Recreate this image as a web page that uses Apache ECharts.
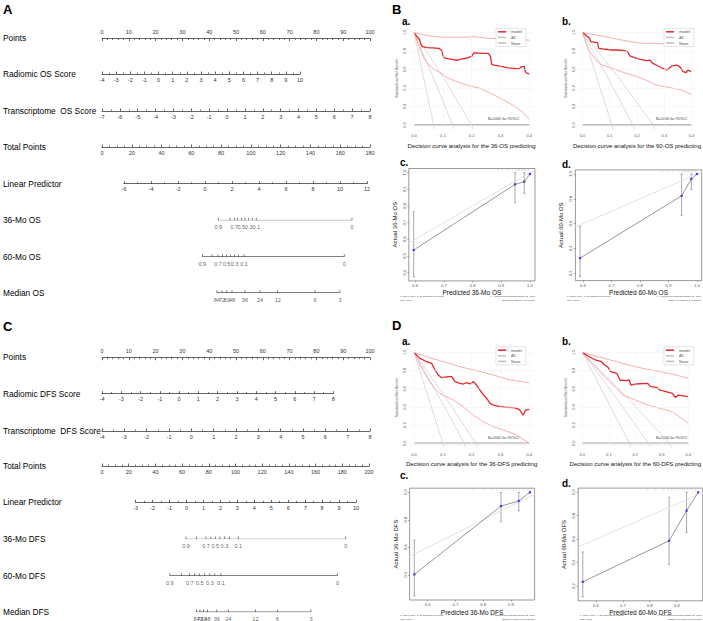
<!DOCTYPE html>
<html><head><meta charset="utf-8">
<script src="https://cdn.jsdelivr.net/npm/echarts@6/dist/echarts.min.js"></script>
<style>html,body{margin:0;padding:0;background:#fff}#c{width:703px;height:621px}</style>
</head><body><div id="c"></div><script>
// ================= DATA =================
const osRowLabels = ['Points','Radiomic OS Score','Transcriptome  OS Score','Total Points','Linear Predictor','36-Mo OS','60-Mo OS','Median OS'];
const dfsRowLabels = ['Points','Radiomic DFS Score','Transcriptome  DFS Score','Total Points','Linear Predictor','36-Mo DFS','60-Mo DFS','Median DFS'];
// linear scales: [min, max, labelStep, minorSplit]
const pointsScale = [0,100,10,5];
const osRadiomicScale = [-4,10,1,2];
const osTranscriptScale = [-7,8,1,2];
const osTotalScale = [0,180,20,4];
const osLpScale = [-6,12,2,2];
const dfsRadiomicScale = [-4,8,1,2];
const dfsTranscriptScale = [-4,8,1,2];
const dfsTotalScale = [0,200,20,4];
const dfsLpScale = [-3,10,1,2];
// non-linear scales: positions in total points, tick labels
const os36Points = [78.1,86.0,88.9,91.1,93.6,96.0,98.5,100.9,103.6,167.9];
const os36Labels = ['0.9','','0.7','','0.5','','0.3','','0.1','0'];
const os60Points = [67.4,73.9,77.9,80.9,83.6,86.3,89.0,91.7,95.4,162.7];
const os60Labels = ['0.9','','0.7','','0.5','','0.3','','0.1','0'];
const osMedianPoints = [77.2,80.6,83.9,87.3,96.0,106.1,118.0,143.1,159.8];
const osMedianLabels = ['84','72','60','48','36','24','12','6','3'];
const dfs36Points = [62.9,70.9,77.9,81.5,84.9,88.3,91.7,95.5,102.1,182.6];
const dfs36Labels = ['0.9','','0.7','','0.5','','0.3','','0.1','0'];
const dfs60Points = [50.8,59.6,65.7,69.4,73.2,77.0,80.8,84.5,89.1,176.4];
const dfs60Labels = ['0.9','','0.7','','0.5','','0.3','','0.1','0'];
const dfsMedianPoints = [70.9,73.4,76.0,79.0,86.0,94.6,114.9,131.3,156.5];
const dfsMedianLabels = ['84','72','60','48','36','24','12','6','3'];

// decision curves  [threshold, standardized net benefit]
const dcaThresholdTicks = [0,0.1,0.2,0.3,0.4];
const dcaBenefitTicks = [0,0.2,0.4,0.6,0.8,1.0];
const dcaOs36Model = [[0,1.0],[0.011,0.95],[0.018,0.93],[0.024,0.87],[0.029,0.845],[0.046,0.835],[0.064,0.833],[0.087,0.826],[0.097,0.80],[0.10,0.754],[0.105,0.725],[0.117,0.717],[0.138,0.705],[0.15,0.697],[0.163,0.71],[0.18,0.72],[0.2,0.74],[0.208,0.779],[0.239,0.772],[0.258,0.772],[0.265,0.74],[0.27,0.652],[0.28,0.645],[0.327,0.616],[0.365,0.606],[0.372,0.63],[0.382,0.632],[0.386,0.58],[0.39,0.562],[0.4,0.552]];
const dcaOs36Upper = [[0,1.0],[0.047,0.964],[0.093,0.948],[0.163,0.946],[0.21,0.953],[0.257,0.935],[0.3,0.93],[0.35,0.922],[0.4,0.915]];
const dcaOs36Lower = [[0,1],[0.017,0.845],[0.034,0.72],[0.05,0.655],[0.07,0.6],[0.093,0.56],[0.115,0.51],[0.15,0.465],[0.195,0.42],[0.23,0.395],[0.257,0.355],[0.28,0.32],[0.31,0.27],[0.345,0.21],[0.379,0.135],[0.4,0.06]];
const dcaOs36All = [[[0,1],[0.068,0],[0.072,-0.06]],[[0,1],[0.07,0.49],[0.134,0],[0.139,-0.06]],[[0,1],[0.1,0.52],[0.2,0],[0.207,-0.06]]];
const dcaOs60Model = [[0,1.0],[0.026,0.935],[0.031,0.899],[0.055,0.888],[0.06,0.827],[0.084,0.817],[0.107,0.809],[0.13,0.809],[0.153,0.802],[0.165,0.791],[0.174,0.745],[0.188,0.73],[0.212,0.709],[0.235,0.694],[0.247,0.701],[0.258,0.665],[0.27,0.647],[0.293,0.612],[0.31,0.594],[0.328,0.637],[0.345,0.647],[0.357,0.629],[0.369,0.576],[0.381,0.565],[0.386,0.594],[0.398,0.576]];
const dcaOs60Upper = [[0,1],[0.037,0.978],[0.084,0.953],[0.13,0.924],[0.177,0.899],[0.223,0.881],[0.27,0.881],[0.3,0.875],[0.35,0.865],[0.4,0.855]];
const dcaOs60Lower = [[0,1],[0.014,0.881],[0.031,0.773],[0.049,0.701],[0.072,0.647],[0.107,0.612],[0.153,0.565],[0.2,0.522],[0.247,0.468],[0.27,0.432],[0.316,0.406],[0.363,0.378],[0.4,0.331]];
const dcaOs60All = [[[0,1],[0.108,0],[0.114,-0.06]],[[0,1],[0.095,0.5],[0.185,0],[0.192,-0.06]],[[0,1],[0.135,0.5],[0.26,0],[0.268,-0.06]]];
const dcaDfs36Model = [[0,1],[0.021,0.934],[0.044,0.897],[0.061,0.879],[0.073,0.806],[0.084,0.751],[0.096,0.722],[0.119,0.733],[0.131,0.733],[0.142,0.678],[0.16,0.66],[0.171,0.652],[0.183,0.667],[0.194,0.652],[0.206,0.678],[0.217,0.641],[0.229,0.586],[0.241,0.531],[0.252,0.495],[0.264,0.44],[0.275,0.421],[0.298,0.403],[0.321,0.396],[0.344,0.392],[0.356,0.385],[0.367,0.366],[0.379,0.311],[0.387,0.366],[0.4,0.374]];
const dcaDfs36Upper = [[0,1],[0.044,0.952],[0.102,0.897],[0.16,0.842],[0.217,0.799],[0.275,0.751],[0.333,0.696],[0.4,0.667]];
const dcaDfs36Lower = [[0,1],[0.021,0.861],[0.044,0.733],[0.067,0.623],[0.09,0.549],[0.136,0.476],[0.171,0.403],[0.206,0.311],[0.24,0.238],[0.275,0.183],[0.31,0.147],[0.356,0.092],[0.4,0.0]];
const dcaDfs36All = [[[0,1],[0.1,0],[0.106,-0.06]],[[0,1],[0.09,0.49],[0.175,0],[0.182,-0.06]],[[0,1],[0.11,0.5],[0.215,0],[0.223,-0.06]]];
const dcaDfs60Model = [[0,1],[0.026,0.952],[0.049,0.916],[0.072,0.897],[0.084,0.861],[0.095,0.842],[0.107,0.788],[0.13,0.77],[0.142,0.696],[0.165,0.689],[0.177,0.696],[0.183,0.641],[0.2,0.652],[0.247,0.659],[0.258,0.623],[0.281,0.615],[0.293,0.586],[0.316,0.568],[0.34,0.549],[0.351,0.505],[0.363,0.531],[0.4,0.513]];
const dcaDfs60Upper = [[0,1],[0.06,0.952],[0.13,0.897],[0.2,0.842],[0.27,0.799],[0.34,0.762],[0.4,0.714]];
const dcaDfs60Lower = [[0,1],[0.037,0.879],[0.084,0.733],[0.13,0.604],[0.153,0.531],[0.2,0.476],[0.247,0.421],[0.293,0.385],[0.34,0.348],[0.4,0.22]];
const dcaDfs60All = [[[0,1],[0.178,0],[0.186,-0.06]],[[0,1],[0.13,0.49],[0.25,0],[0.26,-0.06]],[[0,1],[0.17,0.5],[0.33,0],[0.34,-0.06]]];

// calibration: points [predicted, actual], error bars [predicted, low, high], rug
const calOs36Points = [[0.595,0.536],[0.948,0.930],[0.980,0.946],[1.0,0.992]];
const calOs36Err = [[0.595,0.376,0.766],[0.948,0.82,1.0],[0.98,0.876,1.0]];
const calOs36Rug = [0.89,0.905,0.92,0.93,0.94,0.95,0.955,0.96,0.965,0.97,0.975,0.98,0.985,0.99,0.995];
const calOs60Points = [[0.59,0.322],[0.946,0.824],[0.98,0.96],[1.0,1.0]];
const calOs60Err = [[0.59,0.174,0.579],[0.946,0.668,1.0],[0.98,0.876,1.0]];
const calOs60Rug = [0.88,0.9,0.915,0.93,0.94,0.95,0.955,0.96,0.965,0.97,0.975,0.98,0.985,0.99,0.995];
const calDfs36Points = [[0.552,0.404],[0.864,0.90],[0.928,0.937],[0.968,1.0]];
const calDfs36Err = [[0.552,0.248,0.653],[0.864,0.786,1.0],[0.928,0.866,1.0]];
const calDfs36Rug = [0.76,0.8,0.83,0.85,0.87,0.88,0.89,0.9,0.91,0.92,0.93,0.94,0.95,0.96,0.965];
const calDfs60Points = [[0.551,0.236],[0.872,0.586],[0.937,0.843],[0.98,1.0]];
const calDfs60Err = [[0.551,0.11,0.49],[0.872,0.385,0.957],[0.937,0.658,1.0]];
const calDfs60Rug = [0.79,0.82,0.85,0.87,0.88,0.89,0.9,0.91,0.92,0.93,0.94,0.95,0.96,0.97];
const idealLine = [[0,0],[1.2,1.2]];

// ================= LAYOUT / STYLE =================
const F = '"Liberation Sans", Arial, Helvetica, sans-serif';
const grid = [], xAxis = [], yAxis = [], series = [], legend = [], graphic = [];
function addGrid(g){ grid.push(Object.assign({containLabel:false}, g)); return grid.length - 1; }
function txt(x, y, s, size, opt){
  opt = opt || {};
  graphic.push({type:'text', x, y, silent:true, rotation: opt.rot || 0,
    style:{text:s, fill:opt.color||'#000', font:(opt.bold?'bold ':'')+size+'px '+F,
      textAlign:opt.align||'left', textVerticalAlign:opt.va||'middle'}});
}

function linearRow(y, x0, x1, sc, top){
  const gi = addGrid({left:x0, top: top ? y : y-1, width:x1-x0, height:1});
  xAxis.push({gridIndex:gi, type:'value', min:sc[0], max:sc[1], interval:sc[2], position: top?'top':'bottom',
    axisLine:{show:true, lineStyle:{color:'#222', width:0.7}},
    axisTick:{show:true, inside:true, length:2.5, lineStyle:{color:'#222', width:0.7}},
    minorTick:{show:true, splitNumber:sc[3], length:1.5, lineStyle:{color:'#222', width:0.6}},
    axisLabel:{fontSize:5.5, color:'#333', margin:2.5, fontFamily:F, showMinLabel:true, showMaxLabel:true},
    splitLine:{show:false}, minorSplitLine:{show:false}});
  yAxis.push({gridIndex:gi, type:'value', min:0, max:1, show:false});
}
function survRow(y, x0, x1, totalMax, pts, labels, lineColor){
  const gi = addGrid({left:x0, top:y-1, width:x1-x0, height:1});
  const xi = xAxis.length, yi = yAxis.length;
  xAxis.push({gridIndex:gi, type:'value', min:0, max:totalMax, show:false});
  yAxis.push({gridIndex:gi, type:'value', min:0, max:1, show:false});
  series.push({type:'line', xAxisIndex:xi, yAxisIndex:yi, silent:true, symbol:'none', animation:false,
    data:[[pts[0],0],[pts[pts.length-1],0]], lineStyle:{color:lineColor, width:0.7}});
  series.push({type:'scatter', xAxisIndex:xi, yAxisIndex:yi, silent:true, animation:false,
    data: pts.map((v,i)=>({value:[v,0], name:labels[i]})),
    symbol:'rect', symbolSize:[0.7,2.5], symbolOffset:[0,-1.25], itemStyle:{color:'#222'},
    label:{show:true, position:'bottom', distance:4, formatter:'{b}', fontSize:5.5, color:'#333', fontFamily:F},
    labelLayout:{hideOverlap:false}});
}
function nomogram(rowsY, labels, rows){
  rowsY.forEach((y,i)=> txt(3, y, labels[i], 8.3));
  rows.forEach((r,i)=> r(rowsY[i]));
}

// ---- Panel A (OS) ----
const osY = [37.5, 74, 111, 147, 183.7, 220.3, 256.7, 292.7];
nomogram(osY, osRowLabels, [
  y=>linearRow(y,102,370,pointsScale,true),
  y=>linearRow(y,102,300,osRadiomicScale,false),
  y=>linearRow(y,102,370,osTranscriptScale,false),
  y=>linearRow(y,102,370,osTotalScale,false),
  y=>linearRow(y,124,367,osLpScale,false),
  y=>survRow(y,102,370,180,os36Points,os36Labels,'#9a9a9a'),
  y=>survRow(y,102,370,180,os60Points,os60Labels,'#222'),
  y=>survRow(y,102,370,180,osMedianPoints,osMedianLabels,'#222')
]);
// ---- Panel C (DFS) ----
const dfsY = [356.7, 393.7, 431, 466, 502.3, 539, 575.7, 612];
nomogram(dfsY, dfsRowLabels, [
  y=>linearRow(y,102,370,pointsScale,true),
  y=>linearRow(y,102,333.3,dfsRadiomicScale,false),
  y=>linearRow(y,102,370,dfsTranscriptScale,false),
  y=>linearRow(y,102,369,dfsTotalScale,false),
  y=>linearRow(y,135.7,356,dfsLpScale,false),
  y=>survRow(y,102,369,200,dfs36Points,dfs36Labels,'#9a9a9a'),
  y=>survRow(y,102,369,200,dfs60Points,dfs60Labels,'#222'),
  y=>survRow(y,102,369,200,dfsMedianPoints,dfsMedianLabels,'#222')
]);

// ---- Decision curves ----
function dcaPlot(L, D, title, legPos){
  const gi = addGrid({left:L[0], top:L[1], width:L[2], height:L[3]});
  const xi = xAxis.length, yi = yAxis.length;
  xAxis.push({gridIndex:gi, type:'value', min:-0.016, max:0.416, name:title, nameLocation:'middle', nameGap:14,
    nameTextStyle:{fontSize:6, fontFamily:F, color:'#111'},
    axisLine:{show:false}, axisTick:{show:false},
    axisLabel:{customValues:dcaThresholdTicks, formatter:v=>v.toFixed(1), fontSize:4, color:'#555', margin:5, fontFamily:F},
    splitLine:{show:false}});
  yAxis.push({gridIndex:gi, type:'value', min:-0.04, max:1.04, name:'Standardized Net Benefit', nameLocation:'middle', nameRotate:90, nameGap:10,
    nameTextStyle:{fontSize:3.5, fontFamily:F, color:'#555'},
    axisLine:{show:false}, axisTick:{show:false},
    axisLabel:{customValues:dcaBenefitTicks, formatter:v=>v.toFixed(1), rotate:90, fontSize:4, color:'#555', margin:3, fontFamily:F},
    splitLine:{show:false}});
  const base = {type:'line', xAxisIndex:xi, yAxisIndex:yi, symbol:'none', silent:true, animation:false, clip:true};
  series.push(Object.assign({}, base, {name:'None', data:[[0,0],[0.4,0]], lineStyle:{color:'#bdbdbd', width:2}, itemStyle:{color:'#bdbdbd'},
    markLine:{silent:true, symbol:'none', animation:false, label:{show:false}, lineStyle:{color:'#f1f1f1', width:0.5, type:'solid'},
      data:[...dcaThresholdTicks.map(v=>({xAxis:v})), ...dcaBenefitTicks.map(v=>({yAxis:v}))]}}));
  D.all.forEach(a=> series.push(Object.assign({}, base, {name:'All', data:a, lineStyle:{color:'#c4c4c4', width:0.6}, itemStyle:{color:'#c4c4c4'}})));
  series.push(Object.assign({}, base, {name:'model CI', data:D.upper, lineStyle:{color:'#f29a9a', width:0.8}, itemStyle:{color:'#f29a9a'}}));
  series.push(Object.assign({}, base, {name:'model CI', data:D.lower, lineStyle:{color:'#f29a9a', width:0.8}, itemStyle:{color:'#f29a9a'}}));
  series.push(Object.assign({}, base, {name:'model', data:D.model, lineStyle:{color:'#e3262b', width:1.3}, itemStyle:{color:'#e3262b'}}));
  legend.push({left:legPos[0], top:legPos[1], orient:'vertical', data:['model','All','None'], icon:'rect',
    itemWidth:8, itemHeight:1.5, itemGap:1.6, selectedMode:false, backgroundColor:'#fff', borderColor:'#c8c8c8', borderWidth:0.5,
    padding:[1.5,4,1.5,2], textStyle:{fontSize:4, fontFamily:F, color:'#555'}, z:10});
  txt(legPos[0]-8, L[1]+L[3]-9.5, 'B=1000 for 95%CI', 3.8, {color:'#444'});
}
dcaPlot([409.4,28.6,124.5,100.1], {model:dcaOs36Model, upper:dcaOs36Upper, lower:dcaOs36Lower, all:dcaOs36All}, 'Decision curve analysis for the 36-OS predicting', [496,28.3]);
dcaPlot([578.1,28.6,123.8,100.1], {model:dcaOs60Model, upper:dcaOs60Upper, lower:dcaOs60Lower, all:dcaOs60All}, 'Decision curve analysis for the 60-OS predicting', [664,28.3]);
dcaPlot([409.4,348.7,124.5,98.3], {model:dcaDfs36Model, upper:dcaDfs36Upper, lower:dcaDfs36Lower, all:dcaDfs36All}, 'Decision curve analysis for the 36-DFS predicting', [496,346.7]);
dcaPlot([578.1,348.7,123.8,98.3], {model:dcaDfs60Model, upper:dcaDfs60Upper, lower:dcaDfs60Lower, all:dcaDfs60All}, 'Decision curve analysis for the 60-DFS predicting', [664,346.7]);

// ---- Calibration ----
function calPlot(L, xr, yr, xt, yt, C, xname, yname, notes){
  const gi = addGrid({left:L[0], top:L[1], width:L[2], height:L[3], show:true, borderColor:'#555', borderWidth:0.6, backgroundColor:'transparent'});
  const xi = xAxis.length, yi = yAxis.length;
  xAxis.push({gridIndex:gi, type:'value', min:xr[0], max:xr[1], name:xname, nameLocation:'middle', nameGap:8.5,
    nameTextStyle:{fontSize:6.5, fontFamily:F, color:'#111'},
    axisLine:{show:false}, axisTick:{show:true, customValues:xt, length:1.5, lineStyle:{color:'#555', width:0.5}},
    axisLabel:{customValues:xt, formatter:v=>v.toFixed(1), fontSize:4.2, color:'#555', margin:2.5, fontFamily:F}, splitLine:{show:false}});
  yAxis.push({gridIndex:gi, type:'value', min:yr[0], max:yr[1], name:yname, nameLocation:'middle', nameRotate:90, nameGap:11,
    nameTextStyle:{fontSize:6, fontFamily:F, color:'#111'},
    axisLine:{show:false}, axisTick:{show:true, customValues:yt, length:1.5, lineStyle:{color:'#555', width:0.5}},
    axisLabel:{customValues:yt, formatter:v=>v.toFixed(1), rotate:90, fontSize:4.2, color:'#555', margin:2.5, fontFamily:F}, splitLine:{show:false}});
  const ax = {xAxisIndex:xi, yAxisIndex:yi, silent:true, animation:false};
  series.push(Object.assign({type:'line', data:idealLine, symbol:'none', clip:true, lineStyle:{color:'#e2e2e2', width:1}}, ax));
  series.push(Object.assign({type:'custom', data:C.err, encode:{x:0, y:[1,2]}, clip:true,
    renderItem:(p, api)=>{
      const x = api.value(0), a = api.coord([x, api.value(1)]), b = api.coord([x, api.value(2)]);
      const st = {stroke:'#aaaaaa', lineWidth:1};
      return {type:'group', children:[
        {type:'line', shape:{x1:a[0], y1:a[1], x2:b[0], y2:b[1]}, style:st},
        {type:'line', shape:{x1:a[0]-1.2, y1:a[1], x2:a[0]+1.2, y2:a[1]}, style:st},
        {type:'line', shape:{x1:b[0]-1.2, y1:b[1], x2:b[0]+1.2, y2:b[1]}, style:st}]};
    }}, ax));
  series.push(Object.assign({type:'line', data:C.points, symbol:'rect', symbolSize:2.2, clip:false,
    lineStyle:{color:'#6a6a6a', width:0.7}, itemStyle:{color:'#3b3bff'}}, ax));
  series.push(Object.assign({type:'scatter', data:C.rug.map(v=>[v, yr[1]]), symbol:'rect', symbolSize:[0.4,2.4], symbolOffset:[0,1.2],
    itemStyle:{color:'#aaa'}}, ax));
  const fs = 2.5;
  txt(notes[0], notes[2], 'n=155 d=52 p=1, 50 subjects per group', fs, {color:'#444'});
  txt(notes[0], notes[2]+3.4, 'Gray: ideal', fs, {color:'#444'});
  txt(notes[1], notes[2], 'X - resampling optimism added, B=1000', fs, {color:'#444', align:'right'});
  txt(notes[1], notes[2]+3.4, 'Based on observed-predicted', fs, {color:'#444', align:'right'});
}
calPlot([408.8,168.5,126.2,112.4], [0.578,1.0175], [0.351,1.025], [0.6,0.7,0.8,0.9,1.0], [0.4,0.5,0.6,0.7,0.8,0.9,1.0],
  {points:calOs36Points, err:calOs36Err, rug:calOs36Rug}, 'Predicted 36-Mo OS', 'Actual 36-Mo OS', [400,535,296.5]);
calPlot([575.4,169.9,126.3,110.7], [0.5736,1.0164], [0.141,1.033], [0.6,0.7,0.8,0.9,1.0], [0.2,0.4,0.6,0.8,1.0],
  {points:calOs60Points, err:calOs60Err, rug:calOs60Rug}, 'Predicted 60-Mo OS', 'Actual 60-Mo OS', [567,701,296.5]);
calPlot([409.6,488.2,125,111.8], [0.535,0.985], [0.218,1.03], [0.6,0.7,0.8,0.9], [0.4,0.6,0.8,1.0],
  {points:calDfs36Points, err:calDfs36Err, rug:calDfs36Rug}, 'Predicted 36-Mo DFS', 'Actual 36-Mo DFS', [400,535,615.5]);
calPlot([578.2,488.1,124.5,112.7], [0.534,0.997], [0.074,1.036], [0.6,0.7,0.8,0.9], [0.2,0.4,0.6,0.8,1.0],
  {points:calDfs60Points, err:calDfs60Err, rug:calDfs60Rug}, 'Predicted 60-Mo DFS', 'Actual 60-Mo DFS', [580,701.7,615.5]);

// ---- panel letters ----
txt(3, 9, 'A', 13, {bold:true});
txt(392, 9, 'B', 13, {bold:true});
txt(3, 326, 'C', 13, {bold:true});
txt(392, 325, 'D', 13, {bold:true});
txt(402, 21.5, 'a.', 10, {bold:true});
txt(562, 21.5, 'b.', 10, {bold:true});
txt(400, 162.5, 'c.', 10, {bold:true});
txt(562, 164, 'd.', 10, {bold:true});
txt(402, 341, 'a.', 10, {bold:true});
txt(562, 341, 'b.', 10, {bold:true});
txt(400, 475, 'c.', 10, {bold:true});
txt(562, 483, 'd.', 10, {bold:true});

const chart = echarts.init(document.getElementById('c'), null, {renderer:'svg'});
chart.setOption({animation:false, backgroundColor:'#fff', textStyle:{fontFamily:F},
  grid, xAxis, yAxis, series, legend, graphic});
</script></body></html>
